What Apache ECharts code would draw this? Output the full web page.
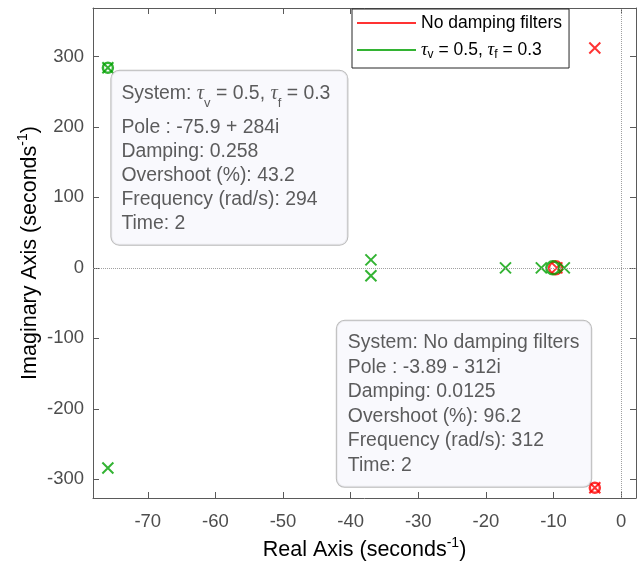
<!DOCTYPE html>
<html><head><meta charset="utf-8">
<script src="https://cdn.jsdelivr.net/npm/echarts@6/dist/echarts.min.js"></script>
<style>html,body{margin:0;padding:0;background:#fff}#c{width:642px;height:562px}</style>
</head><body><div id="c"></div>
<script>
// ---- data ----
const redName = 'No damping filters';
const greenName = 'tau';
const redPoles = [[-3.89, 312], [-3.89, -312], [-9.5, 0]];
const redZeros = [[-9.7, 0]];
const greenPoles = [[-75.9, 284], [-75.9, -284], [-37, 11.3], [-37, -11.3], [-17.1, 0], [-11.8, 0], [-8.4, 0]];
const greenZeros = [[-10.1, 0]];
const tipGreen = [[-75.9, 284]];
const tipRed = [[-3.89, -312]];
const xTicks = [-70, -60, -50, -40, -30, -20, -10, 0];
const yTicks = [-300, -200, -100, 0, 100, 200, 300];
const xRange = [-78.1, 2.2];
const yRange = [-326.6, 368.8];
const tipGreenLines = ['Pole : -75.9 + 284i', 'Damping: 0.258', 'Overshoot (%): 43.2', 'Frequency (rad/s): 294', 'Time: 2'];
const tipRedLines = ['System: No damping filters', 'Pole : -3.89 - 312i', 'Damping: 0.0125', 'Overshoot (%): 96.2', 'Frequency (rad/s): 312', 'Time: 2'];

// ---- style ----
const FONT = "'Liberation Sans', Arial, sans-serif";
const SERIF = "'Liberation Serif', 'DejaVu Serif', serif";
const RED = '#ff0000';
const GREEN = '#00a000';
const AX = '#5a5a5a';
const XPATH = 'path://M0,0L10,10M10,0L0,10';

const tauRich = (fs, lh, subFs) => ({
  m: {fontSize: fs, fontFamily: FONT, lineHeight: lh},
  t: {fontSize: fs + 1, fontFamily: SERIF, fontStyle: 'italic', lineHeight: lh},
  s: {fontSize: subFs, fontFamily: FONT, verticalAlign: 'bottom', lineHeight: subFs}
});

const chart = echarts.init(document.getElementById('c'), null, {renderer: 'canvas'});

const xAxisBase = {
  type: 'value', min: xRange[0], max: xRange[1],
  splitLine: {show: false},
  axisLine: {show: true, onZero: false, lineStyle: {color: AX, width: 1}},
  axisTick: {show: true, inside: true, length: 6, customValues: xTicks, lineStyle: {color: AX}},
  axisLabel: {show: true, customValues: xTicks, color: '#4d4d4d', fontSize: 18.5, fontFamily: FONT, margin: 14}
};
const yAxisBase = {
  type: 'value', min: yRange[0], max: yRange[1],
  splitLine: {show: false},
  axisLine: {show: true, onZero: false, lineStyle: {color: AX, width: 1}},
  axisTick: {show: true, inside: true, length: 6, customValues: yTicks, lineStyle: {color: AX}},
  axisLabel: {show: true, customValues: yTicks, color: '#4d4d4d', fontSize: 18.5, fontFamily: FONT, margin: 9}
};
const nameStyle = {
  color: '#000', fontSize: 21.5, fontFamily: FONT, lineHeight: 29,
  rich: {sup: {fontSize: 14, fontFamily: FONT, verticalAlign: 'top', color: '#000'}}
};

const xSym = (color) => ({type: 'scatter', symbol: XPATH, symbolSize: 11, silent: true,
  itemStyle: {color: 'none', borderColor: color, borderWidth: 2}});
const oSym = (color) => ({type: 'scatter', symbol: 'circle', symbolSize: 13, silent: true,
  itemStyle: {color: 'none', borderColor: color, borderWidth: 2.5}});

const tipLabelBase = {
  show: true,
  backgroundColor: '#f8f8fd', borderColor: '#a8a8a8', borderWidth: 1, borderRadius: 8,
  color: '#333333', fontSize: 19.4, fontFamily: FONT
};

chart.setOption({
  animation: false,
  grid: {left: 93, right: 6, top: 8, bottom: 64, containLabel: false, outerBoundsMode: 'none'},
  xAxis: [
    Object.assign({}, xAxisBase, {position: 'bottom',
      name: 'Real Axis (seconds{sup|-1})', nameLocation: 'middle', nameGap: 36, nameTextStyle: nameStyle}),
    Object.assign({}, xAxisBase, {position: 'top', axisLabel: {show: false}})
  ],
  yAxis: [
    Object.assign({}, yAxisBase, {position: 'left',
      name: 'Imaginary Axis (seconds{sup|-1})', nameLocation: 'middle', nameGap: 48, nameMoveOverlap: false,
      nameTextStyle: nameStyle}),
    Object.assign({}, yAxisBase, {position: 'right', axisLabel: {show: false}})
  ],
  legend: {
    left: 352, top: 9, orient: 'vertical', selectedMode: false,
    padding: [3, 7, 7, 5], itemGap: 5, itemWidth: 59, itemHeight: 2, icon: 'rect',
    backgroundColor: '#fff', borderColor: '#262626', borderWidth: 1, borderRadius: 0,
    data: [
      {name: redName, itemStyle: {color: RED, borderWidth: 0}},
      {name: greenName, itemStyle: {color: GREEN, borderWidth: 0}}
    ],
    formatter: n => n === greenName ? '{t|τ}{s|v}{m| = 0.5, }{t|τ}{s|f}{m| = 0.3}' : n,
    textStyle: {fontSize: 17.5, fontFamily: FONT, color: '#000', lineHeight: 22, rich: tauRich(17.5, 22, 12)}
  },
  series: [
    Object.assign(xSym(RED), {name: redName, data: redPoles, z: 2}),
    Object.assign(oSym(RED), {name: redName, data: redZeros, z: 2}),
    Object.assign(xSym(GREEN), {name: greenName, data: greenPoles, z: 3,
      markLine: {silent: true, symbol: 'none', label: {show: false},
        lineStyle: {type: 'dotted', color: '#a0a0a0', width: 1},
        data: [{xAxis: 0}, {yAxis: 0}]}}),
    Object.assign(oSym(GREEN), {name: greenName, data: greenZeros, z: 4}),
    {type: 'scatter', name: 'tipG', data: tipGreen, symbol: 'circle', symbolSize: 10, silent: true, z: 5,
      itemStyle: {color: 'none', borderColor: GREEN, borderWidth: 2.5},
      label: Object.assign({}, tipLabelBase, {
        position: [11, 10.5], align: 'left', verticalAlign: 'top', padding: [7, 10, 9, 10], lineHeight: 24,
        width: 216,
        formatter: () => '{m|System: }{t|τ}{s|v}{m| = 0.5, }{t|τ}{s|f}{m| = 0.3}\n{g| }\n' + tipGreenLines.join('\n'),
        rich: Object.assign(tauRich(19.4, 32, 13), {g: {fontSize: 2, lineHeight: 6}})
      })},
    {type: 'scatter', name: 'tipR', data: tipRed, symbol: 'circle', symbolSize: 10, silent: true, z: 5,
      itemStyle: {color: 'none', borderColor: RED, borderWidth: 2.5},
      label: Object.assign({}, tipLabelBase, {
        position: [-250.5, 6.6], align: 'left', verticalAlign: 'bottom', padding: [10, 12, 9, 11], lineHeight: 24.5,
        width: 231.4,
        formatter: () => tipRedLines.join('\n')
      })}
  ]
});
</script></body></html>
